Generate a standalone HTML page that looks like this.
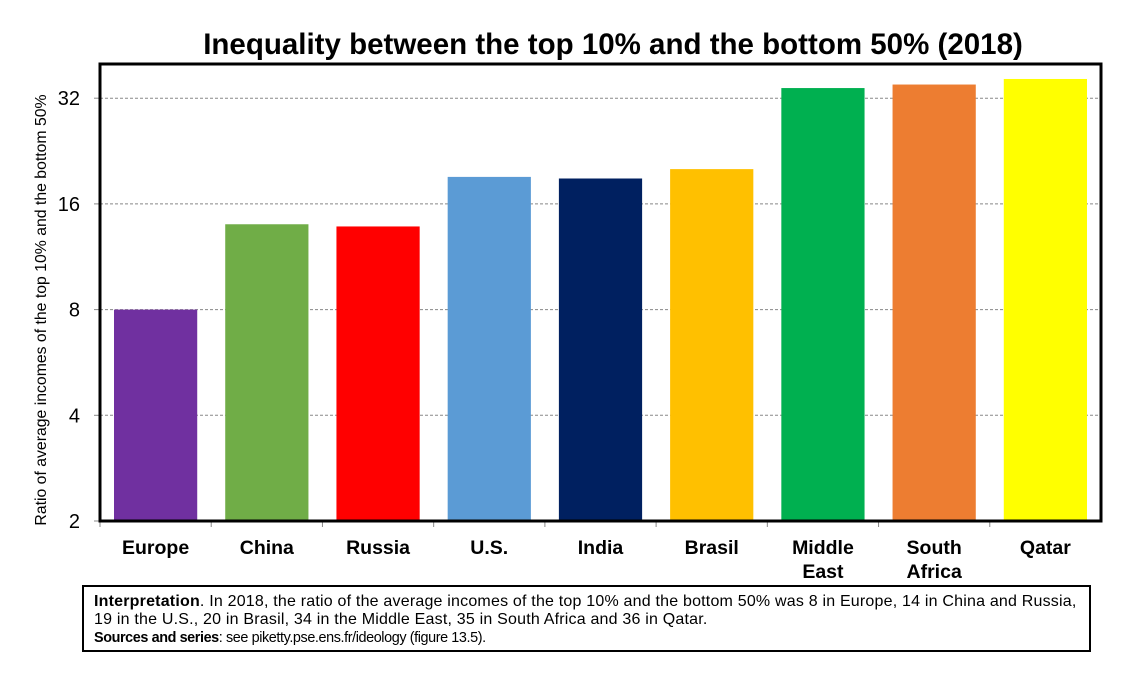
<!DOCTYPE html>
<html><head><meta charset="utf-8"><style>
body{margin:0;background:#fff;width:1142px;height:680px;overflow:hidden;font-family:"Liberation Sans",Arial,sans-serif}
svg{position:absolute;left:0;top:0}
#cap{position:absolute;left:82px;top:585px;width:1009px;height:67px;border:2px solid #000;font-size:16px;letter-spacing:0.2px;line-height:18px;padding:6px 0 0 10px;box-sizing:border-box;color:#000;white-space:nowrap}
#cap .s{font-size:14.4px;letter-spacing:-0.4px}
</style></head><body>
<svg width="1142" height="680">
<text x="613" y="54" text-anchor="middle" font-size="29.5" font-weight="bold">Inequality between the top 10% and the bottom 50% (2018)</text>
<g id="grid"></g><g id="bars"></g><g id="axes"></g>
<text transform="translate(46,310) rotate(-90)" text-anchor="middle" font-size="15.8">Ratio of average incomes of the top 10% and the bottom 50%</text>
</svg>
<div id="cap"><b>Interpretation</b>. In 2018, the ratio of the average incomes of the top 10% and the bottom 50% was 8 in Europe, 14 in China and Russia,<br>19 in the U.S., 20 in Brasil, 34 in the Middle East, 35 in South Africa and 36 in Qatar.<br><span class="s"><b>Sources and series</b>: see piketty.pse.ens.fr/ideology (figure 13.5).</span></div>
<script>
const categories=["Europe","China","Russia","U.S.","India","Brasil","Middle East","South Africa","Qatar"];
const values=[8,14,13.8,19.1,18.9,20.1,34.2,35,36.3];
const colors=["#7030a0","#70ad47","#ff0000","#5b9bd5","#002060","#ffc000","#00b050","#ed7d31","#ffff00"];
const ticks=[2,4,8,16,32];
const NS="http://www.w3.org/2000/svg";
const L=100,R=1101,T=64,B=521,PER=105.7;
function y(v){return B-Math.log2(v/2)*PER;}
const bw=(R-L)/categories.length;
function x(i){return L+bw*i;}
function mk(tag,at,par){const e=document.createElementNS(NS,tag);for(const k in at)e.setAttribute(k,at[k]);document.getElementById(par).appendChild(e);return e;}
ticks.forEach(t=>{
 if(t>2){const g=mk("line",{x1:L,x2:R,y1:y(t),y2:y(t),stroke:"#888","stroke-dasharray":"3,2"},"grid");
 
 }
 const tk=mk("line",{x1:L-6,x2:L,y1:y(t),y2:y(t),stroke:"#888"},"axes");
 
 
 const lb=mk("text",{x:L-20,y:y(t)+7,"text-anchor":"end","font-size":"20"},"axes");lb.textContent=t;
 
 
});
categories.forEach((c,i)=>{
 const r=mk("rect",{x:x(i)+14,y:y(values[i]),width:bw-28,height:B-y(values[i]),fill:colors[i]},"bars");
 
 
 const parts=c.split(" ");
 const t=mk("text",{x:x(i)+bw/2,y:554,"text-anchor":"middle","font-size":"19.5","font-weight":"bold"},"axes");
 parts.forEach((p,j)=>{const s=document.createElementNS(NS,"tspan");s.setAttribute("x",x(i)+bw/2);if(j)s.setAttribute("dy","24");s.textContent=p;t.appendChild(s);});
 
 
 const tk=mk("line",{x1:x(i),x2:x(i),y1:B,y2:B+6,stroke:"#888"},"axes");
 
 
});
const f=mk("rect",{x:L,y:T,width:R-L,height:B-T,fill:"none",stroke:"#000","stroke-width":"3"},"axes");


</script>
</body></html>
